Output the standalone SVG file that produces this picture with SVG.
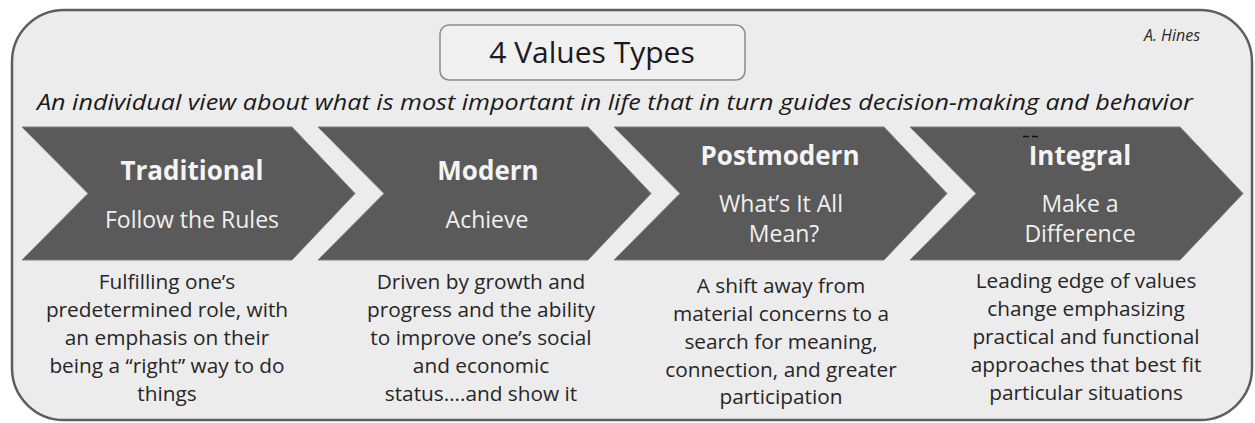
<svg xmlns="http://www.w3.org/2000/svg" width="1255" height="423" viewBox="0 0 1255 423">
<style>
.frame{fill:#ececec;stroke:#5e5e5e;stroke-width:2.5}
.tbox{fill:#f0f0f0;stroke:#8a8a8a;stroke-width:1.5}
.chev{fill:#5a5a5a;stroke:#7c7c7c;stroke-width:1}
.ttl{font-family:"Open Sans","Liberation Sans",sans-serif;font-size:30px;fill:#1a1a1a;text-anchor:middle}
.sub{font-family:"Open Sans","Liberation Sans",sans-serif;font-style:italic;font-size:22px;fill:#1a1a1a;text-anchor:middle}
.auth{font-family:"Open Sans","Liberation Sans",sans-serif;font-style:italic;font-size:16px;fill:#2a2a2a;text-anchor:middle}
.head{font-family:"Open Sans","Liberation Sans",sans-serif;font-weight:bold;font-size:26px;fill:#f4f4f4;text-anchor:middle}
.tag{font-family:"Open Sans","Liberation Sans",sans-serif;font-size:23px;fill:#f0f0f0;text-anchor:middle}
.desc{font-family:"Open Sans","Liberation Sans",sans-serif;font-size:20.8px;fill:#262626;text-anchor:middle}
</style>
<defs>
<polygon id="chevron" points="0,127 270,127 333,193.5 270,260 0,260 66,193.5"/>
</defs>
<rect class="frame" x="12" y="10" width="1240" height="410" rx="52" ry="52"/>
<g id="title">
<rect class="tbox" x="440" y="25" width="305" height="55" rx="9" ry="9"/>
<text class="ttl" x="592" y="63">4 Values Types</text>
</g>
<g id="author"><text class="auth" x="1172" y="41">A. Hines</text></g>
<g id="definition"><text class="sub" x="615" y="110" textLength="1156" lengthAdjust="spacingAndGlyphs">An individual view about what is most important in life that in turn guides decision-making and behavior</text></g>
<g id="connectors"></g>
<g id="traditional">
<use href="#chevron" class="chev" x="22"/>
<text class="head" x="192" y="180">Traditional</text>
<text class="tag" x="192" y="228">Follow the Rules</text>
<text class="desc" x="167"><tspan x="167" y="289">Fulfilling one’s</tspan><tspan x="167" y="317">predetermined role, with</tspan><tspan x="167" y="345">an emphasis on their</tspan><tspan x="167" y="373">being a “right” way to do</tspan><tspan x="167" y="401">things</tspan></text>
</g>
<g id="modern">
<use href="#chevron" class="chev" x="318"/>
<text class="head" x="488" y="180">Modern</text>
<text class="tag" x="487" y="228">Achieve</text>
<text class="desc" x="481"><tspan x="481" y="289">Driven by growth and</tspan><tspan x="481" y="317">progress and the ability</tspan><tspan x="481" y="345">to improve one’s social</tspan><tspan x="481" y="373">and economic</tspan><tspan x="481" y="401">status….and show it</tspan></text>
</g>
<g id="postmodern">
<use href="#chevron" class="chev" x="614"/>
<text class="head" x="780" y="165">Postmodern</text>
<text class="tag" x="781" y="212">What’s It All</text>
<text class="tag" x="784" y="242">Mean?</text>
<text class="desc" x="781"><tspan x="781" y="293">A shift away from</tspan><tspan x="781" y="321">material concerns to a</tspan><tspan x="781" y="349">search for meaning,</tspan><tspan x="781" y="377">connection, and greater</tspan><tspan x="781" y="404">participation</tspan></text>
</g>
<g id="integral">
<use href="#chevron" class="chev" x="910"/>
<path d="M1023,136.5 H1039" stroke="#111" stroke-width="1.5" stroke-dasharray="6,3"/>
<text class="head" x="1080" y="165">Integral</text>
<text class="tag" x="1080" y="212">Make a</text>
<text class="tag" x="1080" y="242">Difference</text>
<text class="desc" x="1086"><tspan x="1086" y="288">Leading edge of values</tspan><tspan x="1086" y="316">change emphasizing</tspan><tspan x="1086" y="344">practical and functional</tspan><tspan x="1086" y="372">approaches that best fit</tspan><tspan x="1086" y="400">particular situations</tspan></text>
</g>
</svg>
